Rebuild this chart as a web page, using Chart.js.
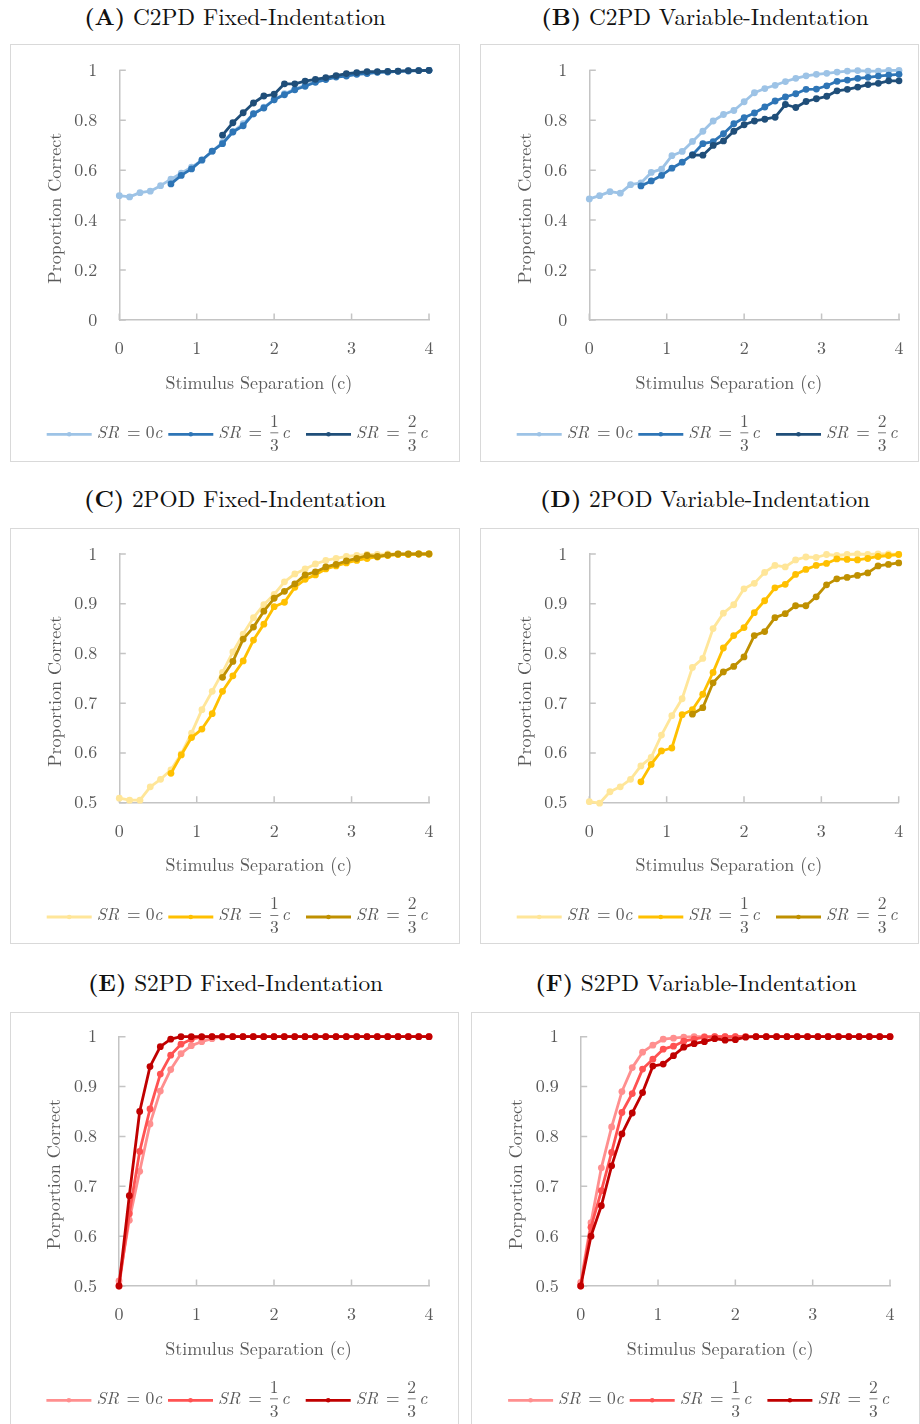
<!DOCTYPE html>
<html lang="en">
<head>
<meta charset="utf-8">
<title>Proportion correct vs stimulus separation</title>
<script src="https://cdn.jsdelivr.net/npm/chart.js@4.4.1/dist/chart.umd.min.js"></script>
<style>
  html, body { margin: 0; padding: 0; background: #ffffff; }
  body { position: relative; width: 920px; height: 1424px; overflow: hidden; font-family: "Latin Modern Roman", "Liberation Serif", serif; }
  .panel-title { position: absolute; transform: translate(-50%, -50%); white-space: nowrap; font-size: 23.3px; color: #111; line-height: 1; }
  .panel-title b { font-weight: bold; }
  .panel { position: absolute; }
  .panel .frame { position: absolute; left: 0; top: 0; right: 0; bottom: 0; border: 1.5px solid #d9d9d9; }
  .panel canvas { position: absolute; left: 0; top: 0; }
</style>
</head>
<body>
<script>
const FONT = '"Latin Modern Roman", "Liberation Serif", serif';
const TEXT_GREY = '#595959';
const AXIS_GREY = '#c4c4c4';

// Stimulus separation (in units of c)
const separation = [
  0, 0.133, 0.267, 0.4, 0.533, 0.667, 0.8, 0.933, 1.067, 1.2,
  1.333, 1.467, 1.6, 1.733, 1.867, 2, 2.133, 2.267, 2.4, 2.533,
  2.667, 2.8, 2.933, 3.067, 3.2, 3.333, 3.467, 3.6, 3.733, 3.867,
  4
];

// Legend: SR = n/d c
const srNumerators = ['0', '1', '2'];
const srDenominators = [null, '3', '3'];

// (A) C2PD fixed indentation
const c2pdFixedSR0 = [
  0.498, 0.493, 0.510, 0.516, 0.538, 0.564, 0.588, 0.612, 0.639, 0.676,
  0.711, 0.754, 0.786, 0.825, 0.852, 0.882, 0.906, 0.925, 0.941, 0.955,
  0.967, 0.975, 0.981, 0.987, 0.991, 0.993, 0.996, 0.997, 0.999, 0.999,
  1.000
];
const c2pdFixedSR13 = [
  null, null, null, null, null, 0.545, 0.579, 0.605, 0.641, 0.676,
  0.706, 0.753, 0.778, 0.826, 0.849, 0.882, 0.902, 0.922, 0.936, 0.952,
  0.963, 0.973, 0.977, 0.984, 0.987, 0.992, 0.993, 0.996, 0.997, 0.999,
  1.000
];
const c2pdFixedSR23 = [
  null, null, null, null, null, null, null, null, null, null,
  0.740, 0.790, 0.830, 0.869, 0.897, 0.904, 0.946, 0.946, 0.957, 0.964,
  0.971, 0.979, 0.987, 0.991, 0.995, 0.995, 0.996, 0.997, 0.999, 0.999,
  1.000
];

// (B) C2PD variable indentation
const c2pdVarSR0 = [
  0.485, 0.498, 0.514, 0.508, 0.542, 0.549, 0.591, 0.604, 0.658, 0.675,
  0.715, 0.756, 0.797, 0.823, 0.839, 0.874, 0.910, 0.927, 0.940, 0.955,
  0.968, 0.978, 0.984, 0.988, 0.993, 0.997, 0.999, 0.997, 0.997, 1.000,
  1.000
];
const c2pdVarSR13 = [
  null, null, null, null, null, 0.537, 0.557, 0.579, 0.608, 0.632,
  0.662, 0.706, 0.714, 0.746, 0.786, 0.810, 0.829, 0.853, 0.877, 0.893,
  0.906, 0.924, 0.925, 0.938, 0.956, 0.961, 0.968, 0.972, 0.977, 0.981,
  0.984
];
const c2pdVarSR23 = [
  null, null, null, null, null, null, null, null, null, null,
  0.660, 0.660, 0.699, 0.717, 0.756, 0.782, 0.797, 0.804, 0.812, 0.863,
  0.851, 0.875, 0.886, 0.896, 0.918, 0.924, 0.933, 0.943, 0.948, 0.958,
  0.958
];

// (C) 2POD fixed indentation
const twoPodFixedSR0 = [
  0.509, 0.505, 0.505, 0.532, 0.547, 0.566, 0.598, 0.640, 0.687, 0.724,
  0.762, 0.803, 0.839, 0.872, 0.898, 0.919, 0.944, 0.960, 0.970, 0.980,
  0.987, 0.991, 0.995, 0.997, 0.999, 0.999, 1.000, 1.000, 1.000, 1.000,
  1.000
];
const twoPodFixedSR13 = [
  null, null, null, null, null, 0.559, 0.596, 0.631, 0.648, 0.679,
  0.724, 0.755, 0.785, 0.827, 0.859, 0.894, 0.903, 0.933, 0.949, 0.958,
  0.970, 0.976, 0.982, 0.987, 0.991, 0.994, 0.997, 0.999, 0.999, 1.000,
  1.000
];
const twoPodFixedSR23 = [
  null, null, null, null, null, null, null, null, null, null,
  0.752, 0.784, 0.829, 0.853, 0.885, 0.911, 0.925, 0.940, 0.958, 0.964,
  0.974, 0.979, 0.986, 0.991, 0.997, 0.995, 0.998, 1.000, 1.000, 1.000,
  1.000
];

// (D) 2POD variable indentation
const twoPodVarSR0 = [
  0.502, 0.499, 0.522, 0.532, 0.547, 0.574, 0.591, 0.636, 0.675, 0.709,
  0.772, 0.790, 0.850, 0.881, 0.898, 0.930, 0.941, 0.963, 0.977, 0.974,
  0.988, 0.994, 0.993, 0.999, 0.997, 0.999, 1.000, 0.999, 1.000, 1.000,
  0.999
];
const twoPodVarSR13 = [
  null, null, null, null, null, 0.542, 0.577, 0.604, 0.610, 0.677,
  0.687, 0.718, 0.762, 0.811, 0.836, 0.852, 0.882, 0.906, 0.932, 0.939,
  0.959, 0.969, 0.977, 0.981, 0.990, 0.989, 0.988, 0.991, 0.995, 0.997,
  0.999
];
const twoPodVarSR23 = [
  null, null, null, null, null, null, null, null, null, null,
  0.678, 0.691, 0.741, 0.763, 0.774, 0.793, 0.836, 0.844, 0.872, 0.880,
  0.896, 0.896, 0.914, 0.938, 0.950, 0.953, 0.957, 0.962, 0.976, 0.979,
  0.982
];

// (E) S2PD fixed indentation
const s2pdFixedSR0 = [
  0.510, 0.632, 0.730, 0.825, 0.891, 0.934, 0.966, 0.982, 0.990, 0.996,
  0.999, 1, 1, 1, 1, 1, 1, 1, 1, 1,
  1, 1, 1, 1, 1, 1, 1, 1, 1, 1,
  1
];
const s2pdFixedSR13 = [
  0.500, 0.645, 0.770, 0.855, 0.925, 0.963, 0.985, 0.995, 0.999, 1,
  1, 1, 1, 1, 1, 1, 1, 1, 1, 1,
  1, 1, 1, 1, 1, 1, 1, 1, 1, 1,
  1
];
const s2pdFixedSR23 = [
  0.500, 0.681, 0.850, 0.940, 0.980, 0.995, 1, 1, 1, 1,
  1, 1, 1, 1, 1, 1, 1, 1, 1, 1,
  1, 1, 1, 1, 1, 1, 1, 1, 1, 1,
  1
];

// (F) S2PD variable indentation
const s2pdVarSR0 = [
  0.507, 0.627, 0.737, 0.819, 0.890, 0.938, 0.969, 0.983, 0.995, 0.997,
  0.999, 1, 1, 1, 1, 1, 1, 1, 1, 1,
  1, 1, 1, 1, 1, 1, 1, 1, 1, 1,
  1
];
const s2pdVarSR13 = [
  0.500, 0.618, 0.691, 0.768, 0.848, 0.886, 0.935, 0.955, 0.975, 0.981,
  0.991, 0.995, 0.999, 1, 1, 1, 1, 1, 1, 1,
  1, 1, 1, 1, 1, 1, 1, 1, 1, 1,
  1
];
const s2pdVarSR23 = [
  0.500, 0.600, 0.661, 0.741, 0.805, 0.847, 0.888, 0.941, 0.945, 0.962,
  0.979, 0.986, 0.990, 0.996, 0.993, 0.994, 0.999, 1, 1, 1,
  1, 1, 1, 1, 1, 1, 1, 1, 1, 1,
  1
];

const blues = ['#9dc3e6', '#2e75b6', '#1f4e79'];
const golds = ['#ffe699', '#ffc000', '#bf9000'];
const reds  = ['#ff8f8f', '#ff5252', '#c00000'];

const X_AXIS_H = 40;
const LEGEND_X = [-72.6, 49, 186.7];

const panels = [
  { letter: '(A)', name: 'C2PD Fixed-Indentation', yTitle: 'Proportion Correct', yMin: 0, yStep: 0.2,
    series: [c2pdFixedSR0, c2pdFixedSR13, c2pdFixedSR23], colors: blues,
    box: { x: 10, y: 44, w: 450, h: 418 }, area: { l: 109.3, r: 419, t: 26.3, b: 276 }, title: { x: 235, y: 15.5 } },
  { letter: '(B)', name: 'C2PD Variable-Indentation', yTitle: 'Proportion Correct', yMin: 0, yStep: 0.2,
    series: [c2pdVarSR0, c2pdVarSR13, c2pdVarSR23], colors: blues,
    box: { x: 480, y: 44, w: 439, h: 418 }, area: { l: 109.3, r: 419, t: 26.3, b: 276 }, title: { x: 705, y: 15.5 } },
  { letter: '(C)', name: '2POD Fixed-Indentation', yTitle: 'Proportion Correct', yMin: 0.5, yStep: 0.1,
    series: [twoPodFixedSR0, twoPodFixedSR13, twoPodFixedSR23], colors: golds,
    box: { x: 10, y: 528, w: 450, h: 416 }, area: { l: 109.3, r: 419, t: 26, b: 274.7 }, title: { x: 235, y: 497.5 } },
  { letter: '(D)', name: '2POD Variable-Indentation', yTitle: 'Proportion Correct', yMin: 0.5, yStep: 0.1,
    series: [twoPodVarSR0, twoPodVarSR13, twoPodVarSR23], colors: golds,
    box: { x: 480, y: 528, w: 439, h: 416 }, area: { l: 109.3, r: 418.7, t: 26, b: 274.7 }, title: { x: 705, y: 497.5 } },
  { letter: '(E)', name: 'S2PD Fixed-Indentation', yTitle: 'Porportion Correct', yMin: 0.5, yStep: 0.1,
    series: [s2pdFixedSR0, s2pdFixedSR13, s2pdFixedSR23], colors: reds,
    box: { x: 10, y: 1012, w: 449, h: 418 }, area: { l: 109, r: 419, t: 24.7, b: 274 }, title: { x: 235.5, y: 981.5 } },
  { letter: '(F)', name: 'S2PD Variable-Indentation', yTitle: 'Porportion Correct', yMin: 0.5, yStep: 0.1,
    series: [s2pdVarSR0, s2pdVarSR13, s2pdVarSR23], colors: reds,
    box: { x: 471, y: 1012, w: 449, h: 418 }, area: { l: 109.7, r: 419, t: 24.7, b: 274 }, title: { x: 696, y: 981.5 } }
];

// Inward tick marks, axis titles and the fraction legend
const panelDecor = {
  id: 'panelDecor',
  beforeDatasetsDraw(chart) {
    const { ctx, chartArea: a, scales: { x, y } } = chart;
    ctx.save();
    ctx.strokeStyle = AXIS_GREY;
    ctx.lineWidth = 1.5;
    ctx.beginPath();
    y.ticks.forEach(t => {
      const py = y.getPixelForValue(t.value);
      ctx.moveTo(a.left, py); ctx.lineTo(a.left + 6.5, py);
    });
    x.ticks.forEach(t => {
      const px = x.getPixelForValue(t.value);
      ctx.moveTo(px, a.bottom); ctx.lineTo(px, a.bottom - 6.5);
    });
    ctx.stroke();
    ctx.restore();
  },
  afterDraw(chart, args, opts) {
    const { ctx, chartArea: a } = chart;
    ctx.save();
    ctx.fillStyle = TEXT_GREY;
    ctx.font = `18px ${FONT}`;
    ctx.textAlign = 'center';
    ctx.textBaseline = 'middle';
    ctx.fillText('Stimulus Separation (c)', a.left + 139.5, a.bottom + 63);
    ctx.save();
    ctx.translate(a.left - 64.3, (a.top + a.bottom) / 2 + 13);
    ctx.rotate(-Math.PI / 2);
    ctx.fillText(opts.yTitle, 0, 0);
    ctx.restore();

    const lineY = a.bottom + 114.3;
    const base = a.bottom + 117.5;
    LEGEND_X.forEach((off, k) => {
      const sx = a.left + off;
      const col = opts.colors[k];
      ctx.strokeStyle = col;
      ctx.lineWidth = 2.8;
      ctx.beginPath(); ctx.moveTo(sx, lineY); ctx.lineTo(sx + 45, lineY); ctx.stroke();
      ctx.fillStyle = col;
      ctx.beginPath(); ctx.arc(sx + 22.5, lineY, 2.3, 0, Math.PI * 2); ctx.fill();

      ctx.fillStyle = TEXT_GREY;
      ctx.textBaseline = 'alphabetic';
      ctx.textAlign = 'left';
      ctx.font = `italic 17.5px ${FONT}`;
      ctx.fillText('SR', sx + 50, base);
      ctx.font = `17.5px ${FONT}`;
      ctx.textAlign = 'center';
      ctx.fillText('=', sx + 87, base);
      if (srDenominators[k] == null) {
        ctx.textAlign = 'left';
        ctx.fillText(srNumerators[k], sx + 99, base);
        ctx.font = `italic 17.5px ${FONT}`;
        ctx.fillText('c', sx + 107.5, base);
      } else {
        ctx.textAlign = 'center';
        ctx.fillText(srNumerators[k], sx + 106, a.bottom + 106.7);
        ctx.fillText(srDenominators[k], sx + 106, a.bottom + 130.7);
        ctx.strokeStyle = TEXT_GREY;
        ctx.lineWidth = 0.8;
        ctx.beginPath(); ctx.moveTo(sx + 102, a.bottom + 112.8); ctx.lineTo(sx + 110, a.bottom + 112.8); ctx.stroke();
        ctx.font = `italic 17.5px ${FONT}`;
        ctx.textAlign = 'left';
        ctx.fillText('c', sx + 113.5, base);
      }
    });
    ctx.restore();
  }
};

const tickFont = { family: FONT, size: 18 };
const fmtTick = v => String(Number(v.toFixed(2)));

panels.forEach(p => {
  const title = document.createElement('div');
  title.className = 'panel-title';
  title.style.left = p.title.x + 'px';
  title.style.top = p.title.y + 'px';
  title.innerHTML = `<b>${p.letter}</b> ${p.name}`;
  document.body.appendChild(title);

  const wrap = document.createElement('div');
  wrap.className = 'panel';
  Object.assign(wrap.style, { left: p.box.x + 'px', top: p.box.y + 'px', width: p.box.w + 'px', height: p.box.h + 'px' });
  const frame = document.createElement('div');
  frame.className = 'frame';
  const canvas = document.createElement('canvas');
  canvas.width = p.box.w;
  canvas.height = p.box.h;
  wrap.appendChild(frame);
  wrap.appendChild(canvas);
  document.body.appendChild(wrap);

  const datasets = p.series.map((vals, k) => ({
    label: `SR ${srNumerators[k]}/${srDenominators[k] || 1}`,
    data: separation.map((sx, i) => ({ x: sx, y: vals[i] })),
    borderColor: p.colors[k],
    backgroundColor: p.colors[k],
    pointBackgroundColor: p.colors[k],
    pointBorderColor: p.colors[k],
    borderWidth: 2.8,
    pointRadius: 3.4,
    pointBorderWidth: 0,
    tension: 0,
    borderJoinStyle: 'round',
    borderCapStyle: 'round',
    spanGaps: false,
    clip: false,
    order: 3 - k
  }));

  new Chart(canvas, {
    type: 'line',
    data: { datasets },
    options: {
      responsive: false,
      animation: false,
      devicePixelRatio: 1,
      events: [],
      layout: { padding: { left: 0, top: p.area.t, right: p.box.w - p.area.r, bottom: p.box.h - p.area.b - X_AXIS_H } },
      plugins: {
        legend: { display: false },
        tooltip: { enabled: false },
        panelDecor: { yTitle: p.yTitle, colors: p.colors }
      },
      scales: {
        x: {
          type: 'linear', min: 0, max: 4,
          ticks: { stepSize: 1, color: TEXT_GREY, font: tickFont, padding: 0, maxRotation: 0, callback: fmtTick },
          grid: { display: false, drawTicks: true, tickLength: 17.5 },
          border: { color: AXIS_GREY, width: 1.5 },
          afterFit(s) { s.height = X_AXIS_H; }
        },
        y: {
          type: 'linear', min: p.yMin, max: 1,
          ticks: { stepSize: p.yStep, color: TEXT_GREY, font: tickFont, padding: 0, callback: fmtTick },
          grid: { display: false, drawTicks: true, tickLength: 22 },
          border: { color: AXIS_GREY, width: 1.5 },
          afterFit(s) { s.width = p.area.l; }
        }
      }
    },
    plugins: [panelDecor]
  });
});
</script>
</body>
</html>
